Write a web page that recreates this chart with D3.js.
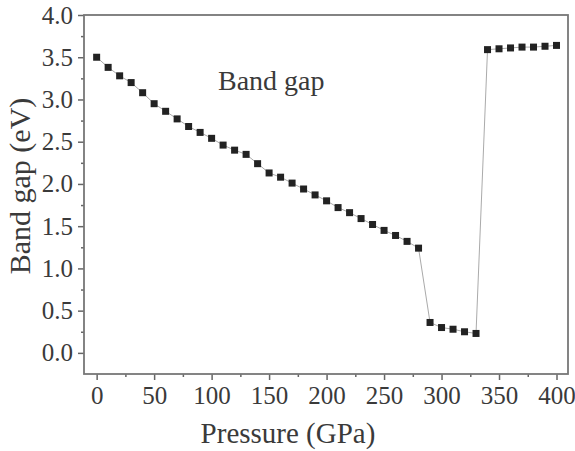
<!DOCTYPE html>
<html lang="en">
<head>
  <meta charset="UTF-8">
  <title>Band gap</title>
  <script src="https://cdn.jsdelivr.net/npm/d3@7"></script>
  <style>
    body { margin: 0; background: #fff; }
    svg text { font-family: "Liberation Serif", "Times New Roman", serif !important; fill: #3a3a3a; }
  </style>
</head>
<body>
  <svg id="chart" width="575" height="451"></svg>
  <script>
    // data
    const pressure = [0, 10, 20, 30, 40, 50, 60, 70, 80, 90, 100, 110, 120, 130, 140, 150, 160, 170, 180, 190,
      200, 210, 220, 230, 240, 250, 260, 270, 280, 290, 300, 310, 320, 330, 340, 350, 360, 370, 380, 390, 400];
    const bandGap = [3.50, 3.38, 3.28, 3.20, 3.08, 2.95, 2.86, 2.77, 2.68, 2.61, 2.54, 2.46, 2.40, 2.35, 2.24, 2.13, 2.08, 2.01, 1.94, 1.87,
      1.80, 1.72, 1.66, 1.59, 1.52, 1.45, 1.39, 1.32, 1.24, 0.36, 0.30, 0.28, 0.25, 0.23, 3.59, 3.60, 3.61, 3.62, 3.62, 3.63, 3.64];
    const xTicks = [0, 50, 100, 150, 200, 250, 300, 350, 400];
    const xMinor = [25, 75, 125, 175, 225, 275, 325, 375];
    const yTicks = [0.0, 0.5, 1.0, 1.5, 2.0, 2.5, 3.0, 3.5, 4.0];
    const yMinor = [0.25, 0.75, 1.25, 1.75, 2.25, 2.75, 3.25, 3.75];

    const dataset = pressure.map((p, i) => ({ p: p, g: bandGap[i] }));

    let mLeft = 84, mRight = 568, mTop = 15, mBottom = 374;
    let svg = d3.select('#chart');

    let xScale = d3.scaleLinear().domain([-11, 410]).range([mLeft, mRight]);
    let yScale = d3.scaleLinear().domain([-0.25, 4.0]).range([mBottom, mTop]);

    //坐标轴
    let axes = [];
    axes.push(svg.append('g')
      .attr('transform', 'translate(0,' + mBottom + ')')
      .call(d3.axisBottom(xScale).tickValues(xTicks).tickFormat(d3.format('d')).tickSize(6).tickPadding(6)));
    axes.push(svg.append('g')
      .attr('transform', 'translate(0,' + mBottom + ')')
      .call(d3.axisBottom(xScale).tickValues(xMinor).tickFormat('').tickSize(3)));
    axes.push(svg.append('g')
      .attr('transform', 'translate(' + mLeft + ',0)')
      .call(d3.axisLeft(yScale).tickValues(yTicks).tickFormat(d3.format('.1f')).tickSize(6).tickPadding(5)));
    axes.push(svg.append('g')
      .attr('transform', 'translate(' + mLeft + ',0)')
      .call(d3.axisLeft(yScale).tickValues(yMinor).tickFormat('').tickSize(3)));

    axes.forEach(g => g.attr('font-family', 'Liberation Serif').attr('font-size', 25));

    svg.selectAll('.domain').remove();
    svg.selectAll('.tick line').attr('stroke', '#666').attr('stroke-width', 1.5);
    svg.selectAll('.tick text').attr('fill', '#3a3a3a');

    //边框
    svg.append('rect')
      .attr('x', mLeft).attr('y', mTop)
      .attr('width', mRight - mLeft).attr('height', mBottom - mTop)
      .attr('fill', 'none')
      .attr('stroke', '#777')
      .attr('stroke-width', 1.8);

    //连线
    let line = d3.line().x(d => xScale(d.p)).y(d => yScale(d.g));
    svg.append('path')
      .datum(dataset)
      .attr('d', line)
      .attr('fill', 'none')
      .attr('stroke', '#aaa')
      .attr('stroke-width', 1);

    //方块
    let size = 7;
    svg.selectAll('rect.pt')
      .data(dataset)
      .enter()
      .append('rect')
      .attr('class', 'pt')
      .attr('x', d => xScale(d.p) - size / 2)
      .attr('y', d => yScale(d.g) - size / 2)
      .attr('width', size)
      .attr('height', size)
      .attr('fill', '#222');

    //文字
    svg.append('text')
      .attr('x', 218).attr('y', 90)
      .style('font-size', '28px')
      .text('Band gap');

    svg.append('text')
      .attr('x', 288).attr('y', 443)
      .attr('text-anchor', 'middle')
      .style('font-size', '29px')
      .text('Pressure (GPa)');

    svg.append('text')
      .attr('transform', 'translate(30,186) rotate(-90)')
      .attr('text-anchor', 'middle')
      .style('font-size', '30px')
      .text('Band gap (eV)');
  </script>
</body>
</html>
